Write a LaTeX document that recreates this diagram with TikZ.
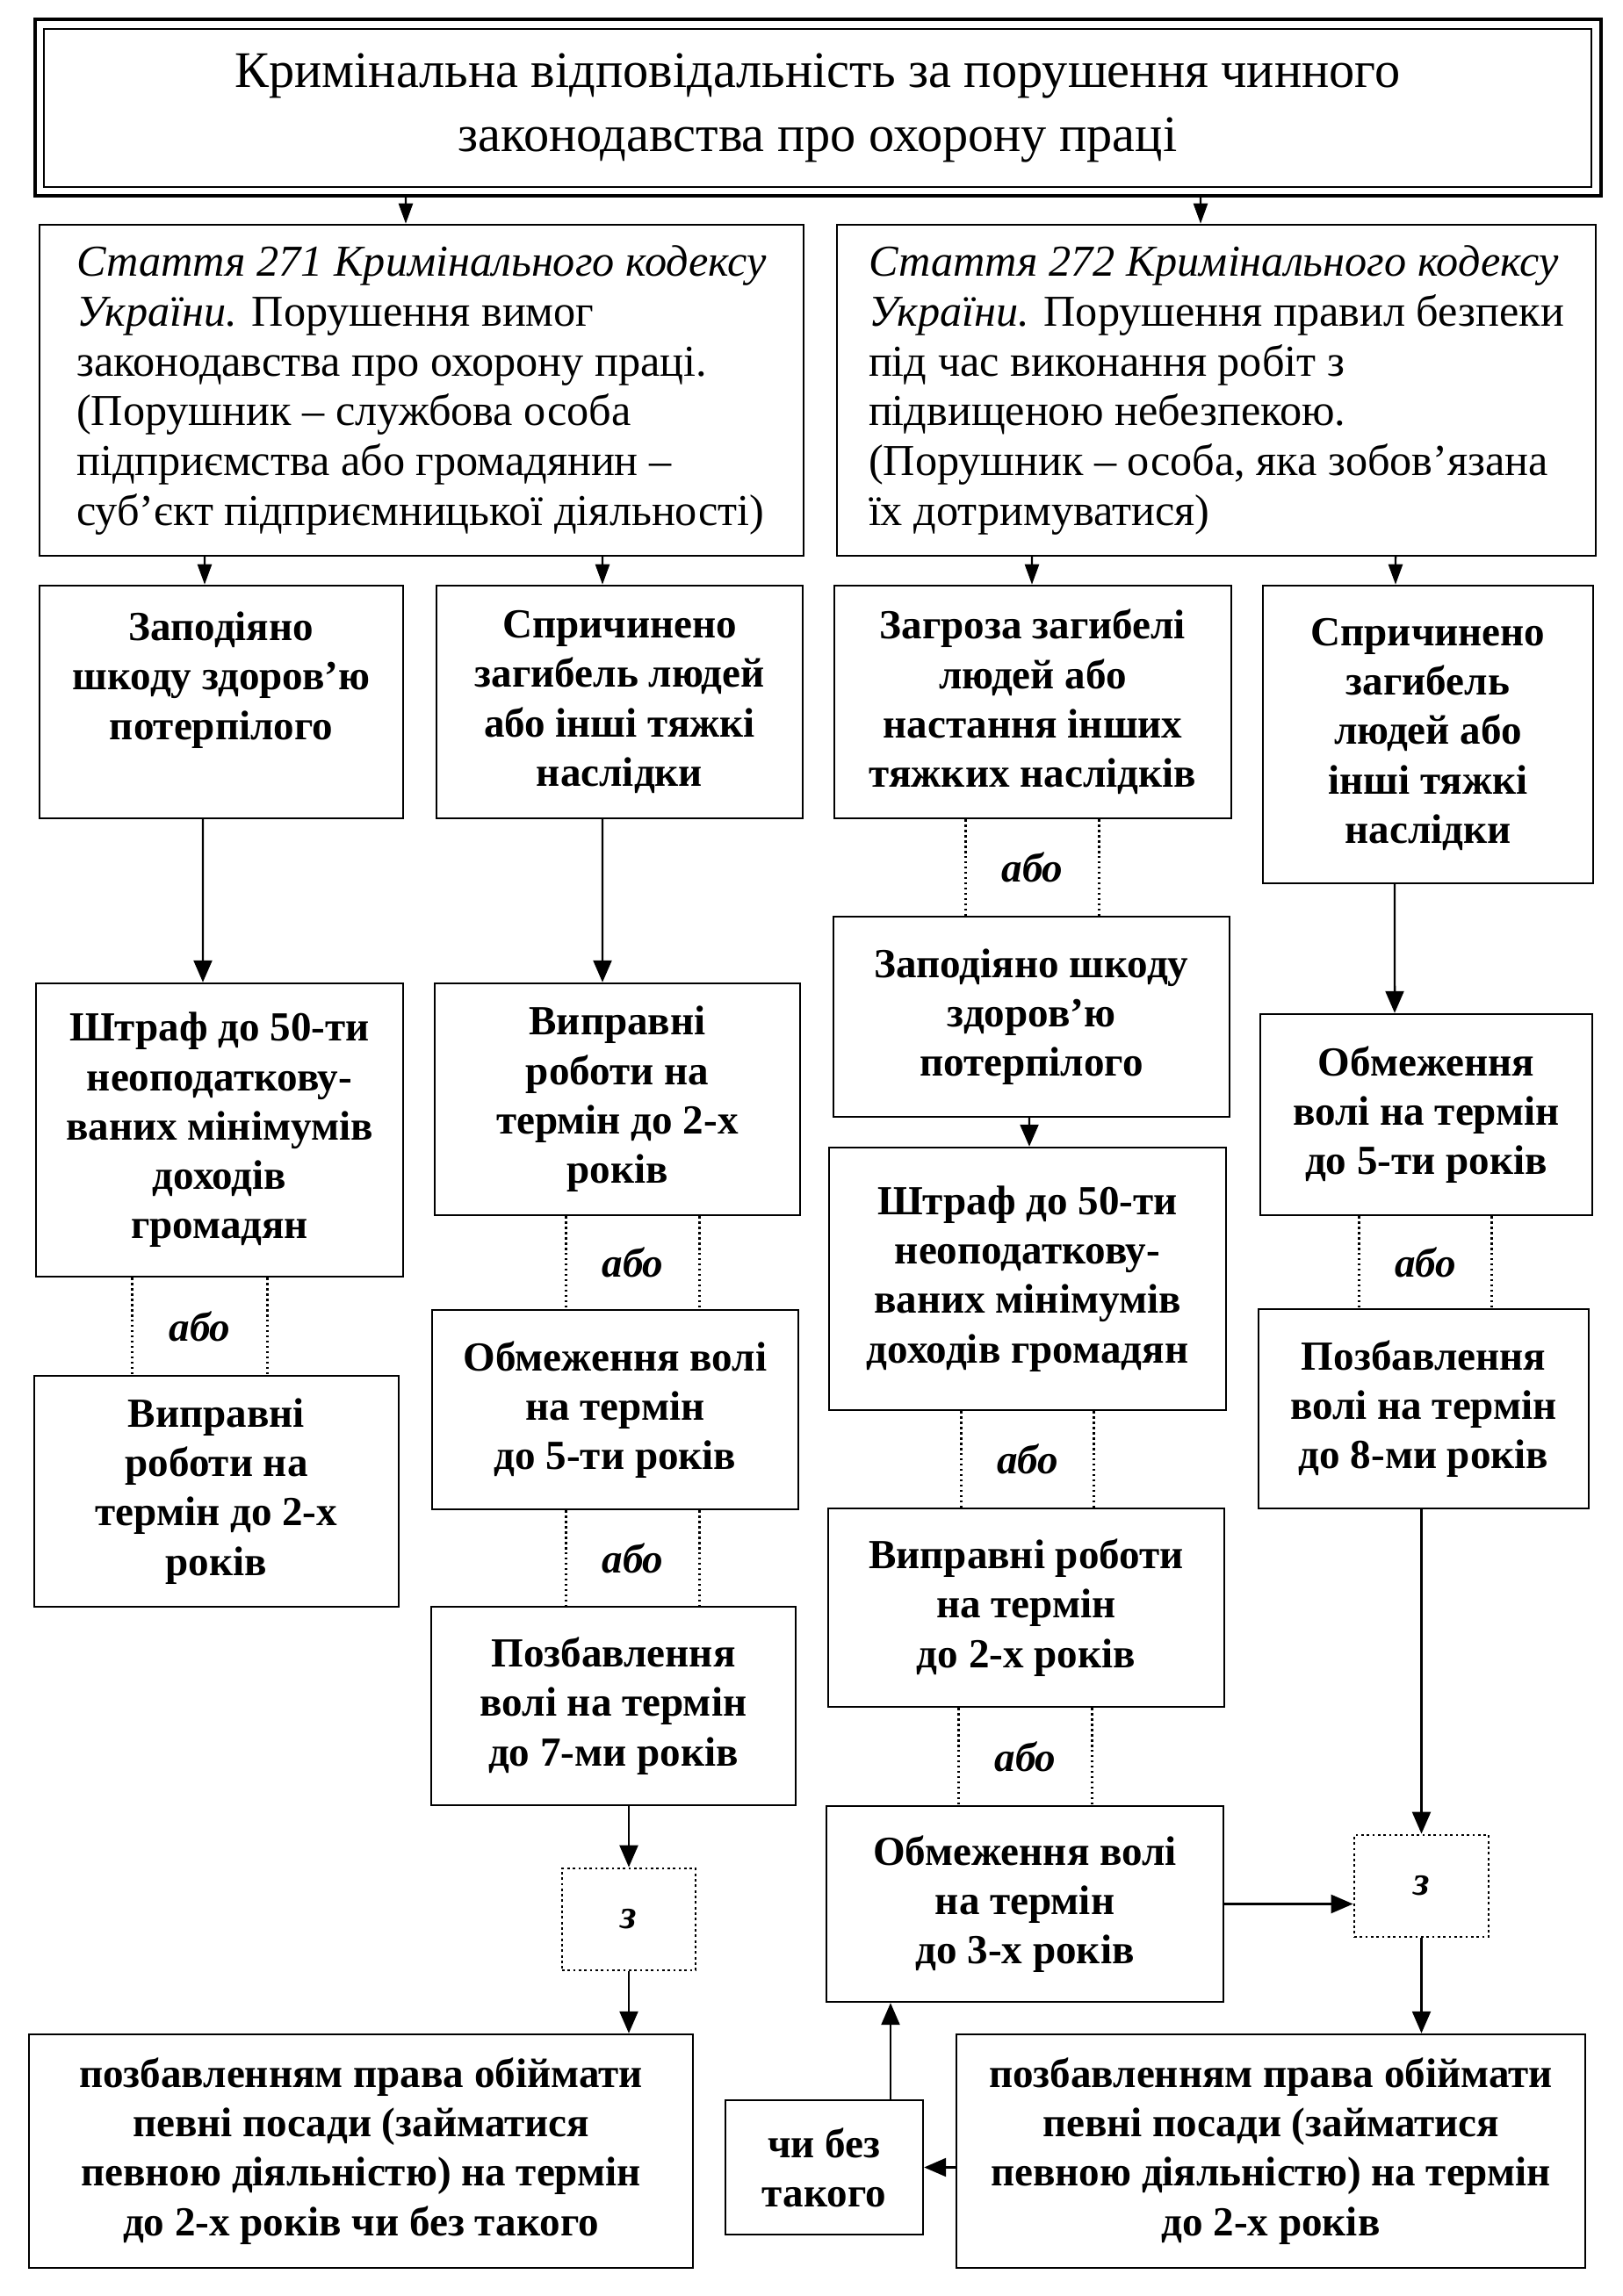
\documentclass[tikz,border=0pt]{standalone}
\usepackage{fontspec}
\setmainfont{Liberation Serif}
\usetikzlibrary{arrows.meta}

\begin{document}
\begin{tikzpicture}[
  box/.style={draw=linecolor, line width=0.7pt, inner sep=0pt, align=center,
    font=\fontsize{13.4}{16}\selectfont\bfseries},
  boxtext/.style={inner sep=0pt, align=center, font=\fontsize{13.4}{16}\selectfont\bfseries},
  titlebox/.style={draw=linecolor, line width=0.7pt, inner sep=0pt, align=center,
    font=\fontsize{16.6}{20.5}\selectfont},
  lawbox/.style={draw=linecolor, line width=0.7pt, inner sep=0pt, align=left,
    font=\fontsize{14.3}{16.2}\selectfont},
  dotbox/.style={draw=linecolor, densely dotted, line width=0.8pt, inner sep=0pt,
    font=\fontsize{13.4}{16}\selectfont\bfseries\itshape},
  orlabel/.style={inner sep=0pt, font=\fontsize{13.4}{16}\selectfont\bfseries\itshape},
  orline/.style={draw=linecolor, line width=0.7pt, densely dotted},
  arr/.style={draw=linecolor, line width=0.7pt, -{Triangle[length=2.5mm,width=2.1mm]}},
  toparr/.style={arr, -{Triangle[length=2.3mm,width=1.6mm]}}
]
\definecolor{linecolor}{RGB}{0,0,0}
\useasboundingbox (0,0) rectangle (18.47,26.15);
% title
\node[titlebox, minimum width=17.62cm, minimum height=1.80cm] (T) at (9.31,24.92) {Кримінальна відповідальність за порушення чинного\\законодавства про охорону праці};
\draw[draw=linecolor, line width=1.1pt] ([shift={(-0.09,-0.09)}]T.south west) rectangle ([shift={(0.10,0.10)}]T.north east);
% articles
\node[lawbox, minimum width=8.70cm, minimum height=3.77cm] (L1) at (4.80,21.705) {\textit{Стаття 271 Кримінального кодексу}\\\textit{України.} Порушення вимог\\законодавства про охорону праці.\\(Порушник – службова особа\\підприємства або громадянин –\\суб’єкт підприємницької діяльності)};
\node[lawbox, minimum width=8.64cm, minimum height=3.77cm] (R1) at (13.85,21.705) {\textit{Стаття 272 Кримінального кодексу}\\\textit{України.} Порушення правил безпеки\\під час виконання робіт з\\підвищеною небезпекою.\\(Порушник – особа, яка зобов’язана\\їх дотримуватися)};
% column A
\node[box, minimum width=4.14cm, minimum height=2.65cm, label={[boxtext, yshift=2.5mm]center:{Заподіяно\\шкоду здоров’ю\\потерпілого}}] (A1) at (2.52,18.155) {};
\node[box, minimum width=4.18cm, minimum height=3.34cm] (A2) at (2.50,13.28) {Штраф до 50-ти\\неоподаткову-\\ваних мінімумів\\доходів\\громадян};
\node[box, minimum width=4.15cm, minimum height=2.63cm] (A3) at (2.465,9.165) {Виправні\\роботи на\\термін до 2-х\\років};
% column B
\node[box, minimum width=4.17cm, minimum height=2.65cm] (B1) at (7.055,18.155) {Спричинено\\загибель людей\\або інші тяжкі\\наслідки};
\node[box, minimum width=4.16cm, minimum height=2.64cm] (B2) at (7.03,13.63) {Виправні\\роботи на\\термін до 2-х\\років};
\node[box, minimum width=4.17cm, minimum height=2.27cm] (B3) at (7.005,10.095) {Обмеження волі\\на термін\\до 5-ти років};
\node[box, minimum width=4.15cm, minimum height=2.26cm] (B4) at (6.985,6.72) {Позбавлення\\волі на термін\\до 7-ми років};
% column C
\node[box, minimum width=4.52cm, minimum height=2.65cm] (C1) at (11.76,18.155) {Загроза загибелі\\людей або\\настання інших\\тяжких наслідків};
\node[box, minimum width=4.51cm, minimum height=2.28cm] (C2) at (11.745,14.57) {Заподіяно шкоду\\здоров’ю\\потерпілого};
\node[box, minimum width=4.52cm, minimum height=2.99cm] (C3) at (11.70,11.585) {Штраф до 50-ти\\неоподаткову-\\ваних мінімумів\\доходів громадян};
\node[box, minimum width=4.51cm, minimum height=2.26cm] (C4) at (11.685,7.84) {Виправні роботи\\на термін\\до 2-х років};
\node[box, minimum width=4.52cm, minimum height=2.23cm] (C5) at (11.67,4.465) {Обмеження волі\\на термін\\до 3-х років};
% column D
\node[box, minimum width=3.76cm, minimum height=3.39cm] (D1) at (16.26,17.785) {Спричинено\\загибель\\людей або\\інші тяжкі\\наслідки};
\node[box, minimum width=3.78cm, minimum height=2.29cm] (D2) at (16.24,13.455) {Обмеження\\волі на термін\\до 5-ти років};
\node[box, minimum width=3.76cm, minimum height=2.27cm] (D3) at (16.21,10.105) {Позбавлення\\волі на термін\\до 8-ми років};
% with
\node[dotbox, minimum width=1.52cm, minimum height=1.16cm] (zL) at (7.16,4.29) {з};
\node[dotbox, minimum width=1.53cm, minimum height=1.16cm] (zR) at (16.185,4.67) {з};
% bans
\node[box, minimum width=7.56cm, minimum height=2.66cm] (E1) at (4.11,1.65) {позбавленням права обіймати\\певні посади (займатися\\певною діяльністю) на термін\\до 2-х років чи без такого};
\node[box, minimum width=7.16cm, minimum height=2.66cm] (E2) at (14.47,1.65) {позбавленням права обіймати\\певні посади (займатися\\певною діяльністю) на термін\\до 2-х років};
\node[box, minimum width=2.25cm, minimum height=1.53cm] (Ch) at (9.385,1.465) {чи без\\такого};
% or links
\node[orlabel, minimum width=1.53cm] (or1) at (2.275,11.045) {або};
\draw[orline] (or1.west |- A2.south) -- (or1.west |- A3.north);
\draw[orline] (or1.east |- A2.south) -- (or1.east |- A3.north);
\node[orlabel, minimum width=1.51cm] (or2) at (7.205,11.77) {або};
\draw[orline] (or2.west |- B2.south) -- (or2.west |- B3.north);
\draw[orline] (or2.east |- B2.south) -- (or2.east |- B3.north);
\node[orlabel, minimum width=1.51cm] (or3) at (7.205,8.405) {або};
\draw[orline] (or3.west |- B3.south) -- (or3.west |- B4.north);
\draw[orline] (or3.east |- B3.south) -- (or3.east |- B4.north);
\node[orlabel, minimum width=1.51cm] (or4) at (11.755,16.27) {або};
\draw[orline] (or4.west |- C1.south) -- (or4.west |- C2.north);
\draw[orline] (or4.east |- C1.south) -- (or4.east |- C2.north);
\node[orlabel, minimum width=1.50cm] (or5) at (11.70,9.53) {або};
\draw[orline] (or5.west |- C3.south) -- (or5.west |- C4.north);
\draw[orline] (or5.east |- C3.south) -- (or5.east |- C4.north);
\node[orlabel, minimum width=1.51cm] (or6) at (11.675,6.145) {або};
\draw[orline] (or6.west |- C4.south) -- (or6.west |- C5.north);
\draw[orline] (or6.east |- C4.south) -- (or6.east |- C5.north);
\node[orlabel, minimum width=1.50cm] (or7) at (16.23,11.775) {або};
\draw[orline] (or7.west |- D2.south) -- (or7.west |- D3.north);
\draw[orline] (or7.east |- D2.south) -- (or7.east |- D3.north);
% arrows
\draw[toparr] ([xshift=-46.9mm,yshift=-0.9mm]T.south) -- ([xshift=-1.8mm]L1.north);
\draw[toparr] ([xshift=43.6mm,yshift=-0.9mm]T.south) -- ([xshift=-1.8mm]R1.north);
\draw[toparr] ([xshift=-24.7mm]L1.south) -- ([xshift=-1.9mm]A1.north);
\draw[toparr] ([xshift=20.6mm]L1.south) -- ([xshift=-1.95mm]B1.north);
\draw[toparr] ([xshift=-21mm]R1.south) -- ([xshift=-0.1mm]C1.north);
\draw[toparr] ([xshift=20.4mm]R1.south) -- ([xshift=-3.7mm]D1.north);
\draw[arr] ([xshift=-2.1mm]A1.south) -- ([xshift=-1.9mm]A2.north);
\draw[arr] ([xshift=-1.95mm]B1.south) -- ([xshift=-1.7mm]B2.north);
\draw[arr] ([xshift=-0.25mm]C2.south) -- ([xshift=0.2mm]C3.north);
\draw[arr] ([xshift=-3.8mm]D1.south) -- ([xshift=-3.6mm]D2.north);
\draw[arr] (B4.south -| zL) -- (zL.north);
\draw[arr] (zL.south) -- (zL.south |- E1.north);
\draw[arr] (D3.south -| zR) -- (zR.north);
\draw[arr] (zR.south) -- (zR.south |- E2.north);
\draw[arr] (C5.east) -- (C5.east -| zR.west);
\draw[arr] (E2.west |- Ch.east) -- (Ch.east);
\coordinate (chup) at ([xshift=7.55mm]Ch.north);
\draw[arr] (chup) -- (chup |- C5.south);
\end{tikzpicture}
\end{document}
